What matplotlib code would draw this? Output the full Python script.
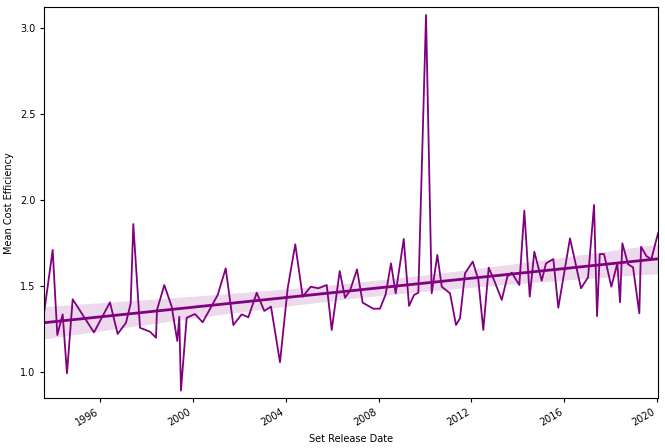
import numpy as np
import matplotlib
matplotlib.use("Agg")
import matplotlib.pyplot as plt
import matplotlib.dates as mdates
from datetime import datetime, timedelta

# Set release dates as decimal years, and mean cost efficiency per set
release_year = [
    1993.586, 1993.948, 1994.147, 1994.379, 1994.565, 1994.810, 1995.267, 1995.728,
    1996.418, 1996.750, 1997.108, 1997.310, 1997.422, 1997.711, 1998.142, 1998.401,
    1998.444, 1998.759, 1999.078, 1999.319, 1999.405, 1999.478, 1999.724, 2000.082,
    2000.414, 2001.060, 2001.405, 2001.733, 2002.095, 2002.379, 2002.741, 2003.069,
    2003.358, 2003.746, 2004.078, 2004.405, 2004.724, 2005.069, 2005.397, 2005.759,
    2005.974, 2006.319, 2006.547, 2006.763, 2007.065, 2007.310, 2007.767, 2008.056,
    2008.302, 2008.530, 2008.733, 2009.078, 2009.306, 2009.522, 2009.707, 2010.039,
    2010.284, 2010.526, 2010.716, 2011.073, 2011.332, 2011.504, 2011.720, 2012.052,
    2012.293, 2012.509, 2012.741, 2012.970, 2013.302, 2013.543, 2013.733, 2014.060,
    2014.276, 2014.509, 2014.707, 2015.026, 2015.211, 2015.526, 2015.741, 2016.246,
    2016.720, 2017.022, 2017.280, 2017.409, 2017.526, 2017.711, 2018.026, 2018.284,
    2018.401, 2018.500, 2018.746, 2018.961, 2019.233, 2019.306, 2019.534, 2019.750,
    2020.039,
]
mean_cost_efficiency = [
    1.353, 1.709, 1.214, 1.334, 0.991, 1.422, 1.326, 1.229,
    1.404, 1.220, 1.285, 1.398, 1.860, 1.256, 1.233, 1.198,
    1.359, 1.505, 1.379, 1.179, 1.320, 0.890, 1.314, 1.336,
    1.288, 1.447, 1.602, 1.272, 1.334, 1.317, 1.460, 1.354,
    1.379, 1.055, 1.486, 1.742, 1.437, 1.495, 1.486, 1.505,
    1.243, 1.586, 1.431, 1.472, 1.596, 1.402, 1.367, 1.367,
    1.451, 1.631, 1.457, 1.773, 1.383, 1.447, 1.460, 3.077,
    1.457, 1.680, 1.495, 1.457, 1.272, 1.311, 1.573, 1.641,
    1.538, 1.243, 1.606, 1.534, 1.418, 1.553, 1.577, 1.505,
    1.938, 1.437, 1.699, 1.530, 1.631, 1.656, 1.373, 1.777,
    1.486, 1.550, 1.971, 1.324, 1.685, 1.685, 1.495, 1.631,
    1.404, 1.748, 1.626, 1.608, 1.340, 1.728, 1.674, 1.655,
    1.806,
]

x_label = "Set Release Date"
y_label = "Mean Cost Efficiency"
y_ticks = [1.0, 1.5, 2.0, 2.5, 3.0]
color = "purple"


def to_date(y):
    yr = int(y)
    return datetime(yr, 1, 1) + timedelta(days=(y - yr) * 365.25)


dates = [to_date(v) for v in release_year]
xnum = mdates.date2num(dates)
yv = np.array(mean_cost_efficiency)

# Linear fit with 95% confidence band for the mean
n = len(xnum)
coef = np.polyfit(xnum, yv, 1)
grid = np.linspace(xnum.min(), xnum.max(), 200)
fit = np.polyval(coef, grid)
resid = yv - np.polyval(coef, xnum)
s = np.sqrt(np.sum(resid ** 2) / (n - 2))
xm = xnum.mean()
sxx = np.sum((xnum - xm) ** 2)
se = s * np.sqrt(1.0 / n + (grid - xm) ** 2 / sxx)
ci = 1.984 * se

plt.rcParams['font.family'] = ['DejaVu Sans']
fig = plt.figure(figsize=(6.65, 4.48), dpi=100)
ax = fig.add_axes([0.0666, 0.1116, 0.9229, 0.8721])

ax.plot(dates, yv, color=color, lw=1.3)
ax.fill_between(mdates.num2date(grid), fit - ci, fit + ci, color=color, alpha=0.15, lw=0)
ax.plot(mdates.num2date(grid), fit, color=color, lw=2.0)

ax.set_xlim(xnum.min(), xnum.max())
ax.set_ylim(0.847, 3.122)
ax.set_yticks(y_ticks)
ax.set_yticklabels([f"{t:.1f}" for t in y_ticks])
ax.xaxis.set_major_locator(mdates.YearLocator(4))
ax.xaxis.set_major_formatter(mdates.DateFormatter("%Y"))
ax.tick_params(labelsize=7, length=3, width=0.8)
for lab in ax.get_xticklabels():
    lab.set_rotation(30)
    lab.set_ha("right")
ax.set_xlabel(x_label, fontsize=7)
ax.set_ylabel(y_label, fontsize=7)

fig.savefig("out.png", dpi=100)
